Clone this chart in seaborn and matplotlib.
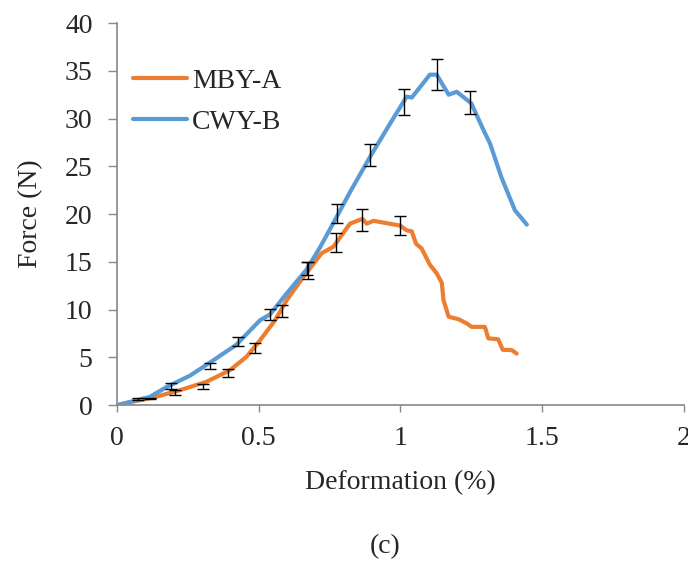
import matplotlib
matplotlib.use("Agg")
import matplotlib.pyplot as plt
import seaborn as sns
import pandas as pd

# MBY-A curve
mby_x = [0, 0.06, 0.128, 0.222, 0.316, 0.399, 0.457, 0.505, 0.558, 0.599, 0.657, 0.722,
         0.764, 0.822, 0.866, 0.881, 0.905, 0.999, 1.022, 1.04, 1.055, 1.075, 1.104, 1.128,
         1.146, 1.152, 1.17, 1.205, 1.234, 1.251, 1.298, 1.31, 1.345, 1.361, 1.393, 1.41]
mby_y = [0, 0.4, 0.8, 1.57, 2.45, 3.67, 5.07, 6.8, 8.9, 11.0, 13.4, 15.9,
         16.6, 19.0, 19.5, 19.0, 19.3, 18.8, 18.3, 18.2, 16.9, 16.4, 14.7, 13.8,
         12.8, 11.0, 9.26, 9.0, 8.56, 8.2, 8.2, 7.0, 6.9, 5.8, 5.77, 5.4]

# CWY-B curve
cwy_x = [0, 0.116, 0.175, 0.258, 0.34, 0.42, 0.505, 0.54, 0.599, 0.669, 0.716, 0.775,
         0.822, 0.893, 0.96, 1.022, 1.04, 1.104, 1.128, 1.17, 1.199, 1.25, 1.293, 1.316,
         1.357, 1.404, 1.446]
cwy_y = [0, 0.87, 1.9, 3.1, 4.7, 6.3, 8.9, 9.5, 11.7, 14.2, 16.5, 19.7,
         22.3, 26.0, 29.3, 32.3, 32.2, 34.6, 34.6, 32.5, 32.8, 31.6, 28.8, 27.4,
         23.8, 20.4, 18.9]

# error bars
mby_ex = [0.116, 0.205, 0.305, 0.393, 0.487, 0.581, 0.675, 0.772, 0.866, 0.999]
mby_ey = [0.7, 1.3, 2.0, 3.4, 6.0, 9.85, 14.1, 17.0, 19.4, 18.8]
mby_ee = [0.1, 0.26, 0.26, 0.44, 0.55, 0.65, 0.93, 1.0, 1.17, 1.0]

cwy_ex = [0.074, 0.19, 0.328, 0.428, 0.54, 0.669, 0.775, 0.893, 1.013, 1.128, 1.246]
cwy_ey = [0.65, 2.0, 4.1, 6.7, 9.5, 14.3, 20.1, 26.2, 31.7, 34.6, 31.7]
cwy_ee = [0.08, 0.3, 0.3, 0.49, 0.6, 0.65, 1.0, 1.19, 1.36, 1.6, 1.22]

x_ticks = [0, 0.5, 1, 1.5, 2]
x_tick_labels = ["0", "0.5", "1", "1.5", "2"]
y_ticks = [0, 5, 10, 15, 20, 25, 30, 35, 40]

sns.set_theme(style="white")
plt.rcParams['font.family'] = ['Liberation Serif', 'DejaVu Serif']

df = pd.concat([
    pd.DataFrame({"x": mby_x, "y": mby_y, "series": "MBY-A"}),
    pd.DataFrame({"x": cwy_x, "y": cwy_y, "series": "CWY-B"}),
], ignore_index=True)

fig = plt.figure(figsize=(6.88, 5.62), dpi=100)
ax = fig.add_axes([0.170, 0.279, 0.824, 0.680])

palette = {"MBY-A": "#ED7D31", "CWY-B": "#5B9BD5"}
sns.lineplot(data=df, x="x", y="y", hue="series", palette=palette, sort=False,
             estimator=None, linewidth=3.0, ax=ax, zorder=2)

ax.errorbar(mby_ex, mby_ey, yerr=mby_ee, fmt="none", ecolor="black", elinewidth=1.0,
            capsize=4, capthick=1.0, zorder=3)
ax.errorbar(cwy_ex, cwy_ey, yerr=cwy_ee, fmt="none", ecolor="black", elinewidth=1.0,
            capsize=4, capthick=1.0, zorder=3)

ax.set_xlim(0, 2)
ax.set_ylim(0, 40)
ax.set_xticks(x_ticks)
ax.set_xticklabels(x_tick_labels)
ax.set_yticks(y_ticks)
ax.tick_params(axis="both", labelsize=20, color="#888888", width=1,
               direction="out", left=True, bottom=True)
ax.tick_params(axis="y", length=6.5, pad=11)
ax.tick_params(axis="x", length=5, pad=10)
ax.set_xlabel("Deformation (%)", fontsize=20, labelpad=14)
ax.set_ylabel("Force (N)", fontsize=20, labelpad=16)
for s in ["top", "right"]:
    ax.spines[s].set_visible(False)
for s in ["left", "bottom"]:
    ax.spines[s].set_color("#888888")
    ax.spines[s].set_linewidth(1.2)

leg = ax.legend(loc="upper left", bbox_to_anchor=(0.028, 0.882), frameon=False,
                borderaxespad=0, borderpad=0,
                fontsize=20, handlelength=1.95, handletextpad=0.18, labelspacing=0.56)
for h in leg.get_lines():
    h.set_linewidth(3.0)

fig.text(0.56, 0.027, "(c)", ha="center", va="center", fontsize=20)

fig.savefig("out.png", dpi=100)
